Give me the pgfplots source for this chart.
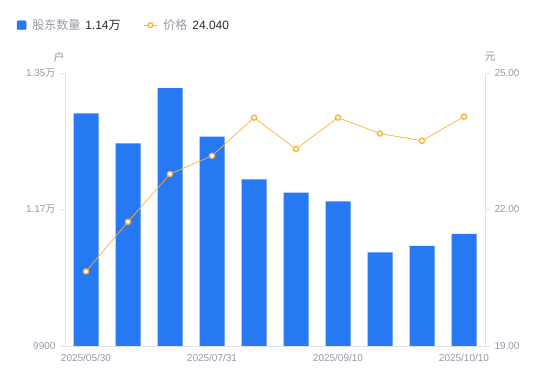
\documentclass[border=0pt]{standalone}
\usepackage{fontspec}
\setmainfont{Liberation Sans}
\newfontfamily\cjk{Noto Sans CJK SC}
\usepackage{pgfplots}
\pgfplotsset{compat=1.18}
\definecolor{barblue}{RGB}{38,120,243}
\definecolor{lineorange}{RGB}{250,178,50}
\definecolor{axisgray}{RGB}{224,226,232}
\definecolor{labelgray}{RGB}{150,152,168}
\definecolor{darktext}{RGB}{40,40,48}
\begin{document}
\begin{tikzpicture}[x=1pt,y=1pt]
\pgfplotsset{
  common/.style={
    at={(65pt,35pt)}, anchor=south west, width=420pt, height=273pt, scale only axis,
    xmin=-0.5, xmax=9.5,
    axis line style={axisgray, line width=0.8pt},
    tick style={axisgray, line width=0.8pt},
    tick align=outside, major tick length=4pt,
    ticklabel style={font=\fontsize{10}{12}\selectfont, text=labelgray},
    /pgf/number format/assume math mode=true,
    scaled y ticks=false,
    clip=false,
  }
}
\begin{axis}[common,
  ymin=9900, ymax=13500,
  ytick={9900,11700,13500},
  yticklabels={9900,{1.17{\cjk 万}},{1.35{\cjk 万}}},
  xtick={0,3,6,9},
  xticklabels={2025/05/30,2025/07/31,2025/09/10,2025/10/10},
  x tick style={draw=none},
  axis x line*=bottom, axis y line*=left,
  yticklabel style={xshift=-2pt},
  xticklabel style={yshift=-1pt},
]
\addplot[ybar, bar width=25pt, fill=barblue, draw=none]
  coordinates {(0,12969) (1,12573) (2,13302) (3,12660) (4,12098) (5,11922) (6,11808) (7,11135) (8,11219) (9,11377)};
\node[font=\fontsize{11}{13}\selectfont\cjk, text=labelgray] at (rel axis cs:-0.014,1.059) {户};
\node[font=\fontsize{11}{13}\selectfont\cjk, text=labelgray] at (rel axis cs:1.012,1.059) {元};
\end{axis}
\begin{axis}[common,
  ymin=19, ymax=25,
  ytick={19,22,25},
  yticklabel style={xshift=2pt, /pgf/number format/fixed, /pgf/number format/fixed zerofill, /pgf/number format/precision=2},
  axis x line=none, axis y line*=right,
  legend style={at={(axis description cs:-0.115,1.175)}, anchor=west, draw=none, fill=none,
    font=\fontsize{12}{14}\selectfont, column sep=4pt, inner sep=0pt,
    /tikz/every even column/.append style={column sep=21pt}},
  legend columns=2,
  legend cell align=left,
]
\addlegendimage{legend image code/.code={\fill[barblue, rounded corners=1pt] (0pt,-4.5pt) rectangle (9pt,4.5pt);}}
\addlegendentry{{\cjk\textcolor{labelgray}{股东数量}}\hspace{5pt}\textcolor{darktext}{1.14{\cjk 万}}}
\addplot[lineorange, line width=0.7pt, mark=*, mark options={draw=lineorange, fill=white, line width=1.3pt}, mark size=2.6pt,
  legend image code/.code={\draw[lineorange, line width=0.7pt] (0pt,0pt) -- (13pt,0pt); \draw[lineorange, fill=white, line width=1.3pt] (6.5pt,0pt) circle (2.4pt);}]
  coordinates {(0,20.64) (1,21.73) (2,22.78) (3,23.18) (4,24.02) (5,23.33) (6,24.02) (7,23.67) (8,23.51) (9,24.04)};
\addlegendentry{{\cjk\textcolor{labelgray}{价格}}\hspace{5pt}\textcolor{darktext}{24.040}}
\end{axis}
\pgfresetboundingbox
\useasboundingbox (0pt,0pt) rectangle (550pt,381pt);
\end{tikzpicture}
\end{document}
